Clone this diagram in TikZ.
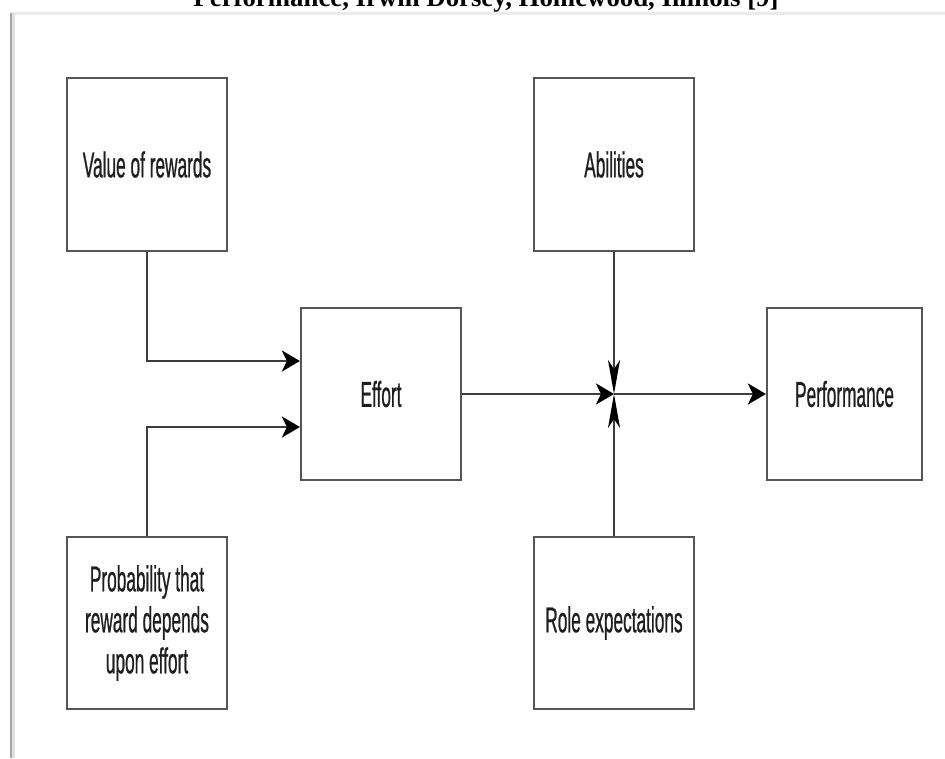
\documentclass[tikz,border=0pt]{standalone}
\usepackage{fontspec}
\setmainfont{Liberation Serif}
\newfontfamily\diagfont[FakeStretch=0.48,FakeBold=0.6]{Liberation Sans}
\usetikzlibrary{arrows.meta,calc}
\definecolor{boxline}{HTML}{555555}
\definecolor{conline}{HTML}{3C3C3C}
\definecolor{txt}{HTML}{1E1E1E}
\tikzset{
  diagbox/.style={draw=boxline, line width=2.2pt, rectangle, inner sep=0pt,
    minimum width=160pt, minimum height=172pt, align=center,
    font=\diagfont\fontsize{36}{41}\selectfont, text=txt},
  conn/.style={draw=conline, line width=2.8pt},
  harrow/.style={conn, -{Stealth[length=18pt,width=21pt,inset=5pt,fill=black,color=black]}},
  varrow/.style={conn, -{Stealth[length=34pt,width=12pt,inset=9pt,fill=black,color=black]}},
}
\begin{document}
\begin{tikzpicture}[x=1pt,y=-1pt]
\useasboundingbox (0,0) rectangle (945,758);
\clip (0,0) rectangle (945,758);
% page frame
\draw[black!8, line width=3pt] (11,13) -- (945,13);
\draw[black!12, line width=5pt] (12,13) -- (12,758);
\draw[black!35, line width=1.5pt] (11,13) -- (11,758);
% clipped title
\node[anchor=base, font=\bfseries\fontsize{26.8}{30}\selectfont, inner sep=0pt] (title) at (486,6)
  {Performance, Irwin Dorsey, Homewood, Illinois [9]};
% boxes
\node[diagbox, minimum height=173pt] (value) at (147,164.5) {Value of rewards};
\node[diagbox] (prob) at (147,623) {Probability that\\reward depends\\upon effort};
\node[diagbox] (effort) at (381,394) {Effort};
\node[diagbox, minimum height=173pt] (abil) at (614,164.5) {Abilities};
\node[diagbox] (role) at (614,623) {Role expectations};
\node[diagbox, minimum width=155pt] (perf) at (844.5,394) {Performance};
% junction
\coordinate (J) at (abil.south |- effort.east);
% connectors
\draw[harrow] (value.south) |- ([yshift=33pt]effort.west);
\draw[harrow] (prob.north) |- ([yshift=-33pt]effort.west);
\draw[harrow] (effort.east) -- (J);
\draw[varrow] (abil.south) -- (J);
\draw[varrow] (role.north) -- (J);
\draw[harrow] (J) -- (perf.west);
\end{tikzpicture}
\end{document}
